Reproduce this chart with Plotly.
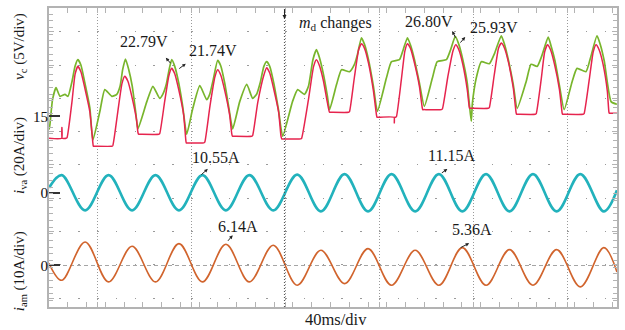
import plotly.graph_objects as go

# ---------------- data (time in ms, 40 ms/div) ----------------
# v_c (green) [V]
vc_t = [0.0, 0.4, 1.5, 3.0, 4.7, 6.8, 8.1, 9.8, 11.1, 12.3, 13.6, 15.3, 17.4, 18.7,
        21.7, 23.8, 26.8, 28.9, 30.3, 31.4, 32.6, 34.0, 35.5, 37.0, 37.9,
        41.7, 44.3, 47.2, 48.5, 50.0, 51.2, 52.3, 53.6, 55.3, 57.0, 58.7,
        61.3, 64.3, 67.2, 68.5, 70.0, 71.9, 73.2, 74.9, 76.8, 78.3,
        81.3, 84.3, 86.8, 88.5, 90.0, 91.6, 92.8, 94.1, 95.8, 97.9, 99.6,
        103.8, 106.0, 108.9, 110.6, 112.5, 114.0, 115.3, 117.0, 118.7, 119.6,
        122.6, 124.7, 128.1, 130.2, 131.5, 133.2, 134.5, 136.2, 138.3, 140.0,
        143.8, 146.0, 149.4, 151.0, 152.8, 154.1, 155.8, 157.9, 160.0,
        163.4, 165.5, 169.4, 171.2, 173.2, 174.7, 176.4, 178.3, 179.2, 180.0, 180.5,
        182.1, 184.3, 187.7, 190.0, 192.8, 194.1, 195.8, 197.9, 199.6,
        203.4, 205.5, 208.1, 210.0, 212.8, 214.0, 215.7, 217.6, 219.6,
        223.0, 225.1, 228.9, 231.0, 233.6, 235.0, 236.7, 239.6, 242.1]
vc_v = [13.0, 13.8, 17.5, 19.3, 18.0, 18.3, 18.0, 20.2, 22.5, 23.5, 22.7, 20.0, 16.3, 11.4,
        15.75, 19.0, 18.0, 18.3, 19.5, 22.0, 23.6, 22.0, 19.5, 15.5, 13.1,
        17.2, 19.5, 17.7, 18.3, 19.8, 22.0, 23.5, 22.5, 20.0, 16.5, 12.3,
        16.2, 19.6, 17.5, 18.3, 20.5, 23.4, 22.6, 20.0, 16.0, 13.1,
        17.2, 19.8, 17.7, 18.3, 20.0, 22.5, 23.2, 22.5, 20.0, 15.8, 12.0,
        17.2, 19.0, 18.3, 19.5, 23.5, 25.0, 23.8, 21.3, 18.0, 16.0,
        19.8, 22.0, 21.7, 22.8, 24.3, 26.8, 25.8, 23.5, 19.5, 15.75,
        20.7, 23.2, 23.5, 25.0, 26.8, 25.7, 23.5, 20.0, 16.5,
        20.7, 23.2, 23.5, 25.0, 27.0, 25.8, 23.5, 20.0, 16.8, 14.25, 17.0,
        20.7, 23.2, 22.9, 24.5, 27.1, 25.9, 23.5, 19.8, 16.2,
        20.2, 22.8, 22.5, 24.0, 26.9, 25.6, 23.3, 19.6, 16.0,
        20.2, 22.2, 21.7, 24.0, 27.1, 25.8, 23.3, 17.2, 16.8]

# red voltage [V]
vr_t = [0.0, 5.4, 5.5, 5.6, 7.3, 7.7, 9.8, 11.1, 12.3, 13.6, 15.3, 17.4, 18.7, 18.9, 19.4, 26.8, 27.2,
        29.3, 31.1, 32.3, 33.6, 35.3, 37.3, 37.9, 38.2, 38.7, 46.8, 47.2,
        49.3, 51.1, 52.3, 53.6, 55.3, 57.4, 58.3, 58.5, 59.0, 66.0, 66.4,
        68.6, 70.7, 71.9, 73.2, 74.9, 77.0, 77.9, 78.2, 78.7, 86.4, 86.8,
        89.0, 91.6, 92.8, 94.1, 95.8, 97.9, 98.9, 99.2, 99.7, 107.3, 107.7,
        110.6, 112.8, 114.0, 115.3, 117.0, 118.7, 119.6, 120.1, 127.7, 128.1,
        130.2, 132.0, 133.2, 134.5, 136.2, 138.3, 139.6, 139.8, 140.3, 147.1, 147.2, 147.3, 147.7, 148.1,
        150.2, 151.7, 152.8, 154.1, 155.8, 157.9, 159.1, 159.3, 159.8, 167.3, 167.7,
        170.0, 172.2, 173.4, 174.7, 176.4, 178.3, 179.1, 179.3, 179.8, 187.3, 187.7,
        189.8, 191.6, 192.8, 194.1, 195.8, 197.9, 199.1, 199.3, 199.8, 207.3, 207.7,
        209.8, 211.3, 212.5, 213.8, 215.5, 217.6, 218.7, 218.9, 219.4, 227.7, 228.1,
        230.3, 232.0, 233.2, 234.5, 236.2, 238.0, 238.7, 238.9, 239.4, 242.1]
vr_v = [11.7, 11.7, 13.3, 11.7, 11.7, 11.8, 17.2, 21.3, 22.5, 21.7, 19.2, 15.7, 11.0, 10.5, 10.5, 10.5, 10.6,
        15.6, 19.9, 21.0, 20.3, 18.0, 14.5, 12.6, 12.3, 12.3, 12.3, 12.4,
        17.2, 21.1, 22.2, 21.4, 19.0, 15.2, 11.5, 11.0, 11.0, 11.0, 11.1,
        16.5, 20.9, 22.0, 21.2, 18.9, 15.2, 12.4, 12.0, 12.0, 12.0, 12.1,
        17.1, 21.2, 22.3, 21.5, 19.1, 15.6, 12.0, 11.6, 11.6, 11.6, 11.7,
        17.5, 22.5, 23.5, 22.6, 20.3, 17.0, 15.6, 15.6, 15.6, 15.7,
        20.9, 25.0, 25.9, 25.2, 23.0, 18.8, 15.2, 14.85, 14.85, 14.85, 14.0, 14.85, 14.85, 14.95,
        20.5, 24.8, 25.9, 25.2, 23.0, 19.5, 16.3, 16.0, 16.0, 16.0, 16.1,
        20.9, 24.8, 25.75, 25.0, 22.8, 19.0, 16.5, 16.2, 16.2, 16.2, 16.3,
        21.2, 25.2, 26.0, 25.3, 23.2, 19.3, 15.6, 15.3, 15.3, 15.3, 15.4,
        20.5, 24.7, 25.75, 25.0, 22.8, 19.0, 15.6, 15.3, 15.3, 15.3, 15.4,
        20.5, 24.7, 25.75, 25.0, 22.8, 18.8, 15.6, 15.45, 15.45, 15.45]

# i_va (cyan) [A]  -- peaks / troughs
iva_t = [0.0, 5.4, 15.4, 25.4, 35.4, 45.4, 55.4, 65.4, 75.4, 85.4, 95.6, 105.8, 115.9, 126.0,
         136.0, 146.0, 156.1, 166.2, 176.2, 186.3, 196.3, 206.3, 216.4, 226.5, 236.5, 242.1]
iva_v = [3.0, 10.6, -10.6, 10.6, -10.6, 10.6, -10.6, 10.6, -10.6, 10.6, -10.6, 10.9, -11.2, 11.2,
         -11.2, 11.2, -11.2, 11.2, -11.2, 11.2, -11.2, 11.2, -11.2, 11.2, -11.2, 1.5]

# i_am (orange) [A]
iam_t = [0.0, 5.4, 15.4, 25.4, 35.4, 45.4, 55.4, 65.4, 75.4, 85.4, 95.6, 105.8, 115.9, 126.0,
         136.0, 146.0, 156.1, 166.2, 176.2, 186.3, 196.3, 206.3, 216.4, 226.5, 236.5, 242.1]
iam_v = [0.6, -4.5, 7.0, -5.0, 5.7, -5.0, 6.5, -5.0, 6.3, -5.0, 6.0, -6.0, 4.5, -5.5,
         5.0, -6.0, 4.5, -6.0, 5.3, -6.0, 4.7, -6.0, 4.7, -6.5, 5.3, -2.0]

# ---------------- layout geometry ----------------
W, H = 625, 330
ML, MR, MT, MB = 49, 7, 6, 23
X_RANGE = [0, 242.13]          # ms
DIVS_H = 301 / 33.5            # vertical divisions visible


def yrange(ref_val, divs_from_top, per_div):
    top = ref_val + divs_from_top * per_div
    return [top - DIVS_H * per_div, top]


SERIF = "Liberation Serif"
GREY = "#b3b3b3"
DOT = "#9a9a9a"

fig = go.Figure()
fig.add_trace(go.Scatter(x=vc_t, y=vc_v, mode="lines", yaxis="y",
                         line=dict(color="#78b52c", width=1.7, shape="spline", smoothing=0.5)))
fig.add_trace(go.Scatter(x=vr_t, y=vr_v, mode="lines", yaxis="y",
                         line=dict(color="#e6244e", width=1.5, shape="spline", smoothing=0.5)))
fig.add_trace(go.Scatter(x=iva_t, y=iva_v, mode="lines", yaxis="y2",
                         line=dict(color="#22b2bc", width=2.6, shape="spline", smoothing=1.0)))
fig.add_trace(go.Scatter(x=iam_t, y=iam_v, mode="lines", yaxis="y3",
                         line=dict(color="#d1642d", width=1.6, shape="spline", smoothing=1.0)))

tick_common = dict(ticks="inside", ticklen=11, tickwidth=1.5, tickcolor="#333",
                   showgrid=False, zeroline=False, showline=False,
                   tickfont=dict(family=SERIF, size=15, color="#111"))

fig.update_layout(
    width=W, height=H, autosize=False,
    margin=dict(l=ML, r=MR, t=MT, b=MB, pad=0),
    paper_bgcolor="white", plot_bgcolor="white", showlegend=False,
    xaxis=dict(range=X_RANGE, showticklabels=False,
               tick0=20.85, dtick=40, ticks="inside", ticklen=5, tickcolor=GREY,
               minor=dict(dtick=8, ticks="inside", ticklen=5, tickcolor=GREY, showgrid=False),
               showgrid=True, gridcolor=DOT, gridwidth=1, griddash="1px,2px",
               zeroline=False, showline=True, linecolor=GREY, linewidth=2, mirror="allticks"),
    yaxis=dict(range=yrange(15, 109 / 33.5, 5), tickvals=[15], ticktext=["15"], **tick_common),
    yaxis2=dict(range=yrange(0, 186 / 33.5, 20), tickvals=[0], ticktext=["0"],
                overlaying="y", **tick_common),
    yaxis3=dict(range=yrange(0, 259 / 33.5, 10), tickvals=[0], ticktext=["0"],
                overlaying="y", **{**tick_common, "showgrid": True},
                gridcolor="#a5a5a5", gridwidth=1.2, griddash="4px,3px"),
    yaxis4=dict(range=[0, DIVS_H], overlaying="y", showticklabels=False,
                tick0=(307 - 30) / 33.5 - 8, dtick=1, ticks="inside", ticklen=5, tickcolor=GREY,
                minor=dict(dtick=0.2, ticks="inside", ticklen=4, tickcolor=GREY, showgrid=False),
                showgrid=True, gridcolor=DOT, gridwidth=1, griddash="0px,10.4px,1.5px,6.9px",
                zeroline=False, showline=True, linecolor=GREY, linewidth=2, mirror="allticks"),
)

# dummy trace so yaxis4 is drawn
fig.add_trace(go.Scatter(x=[None], y=[None], yaxis="y4", hoverinfo="skip"))

# m_d change marker
MD_T = 100.4
fig.add_shape(type="line", xref="x", yref="paper", x0=MD_T, x1=MD_T, y0=0, y1=1,
              line=dict(color="#555", width=1.2, dash="1px,2px"))

ann_font = dict(family=SERIF, size=16, color="#1a1a1a")
ann = []
ann.append(dict(x=MD_T, y=1 - 11 / 301, xref="x", yref="paper", ax=0, ay=-11,
                showarrow=True, arrowhead=2, arrowsize=0.8, arrowwidth=1, arrowcolor="#222", text=""))
ann.append(dict(x=122.1, y=28.9, xref="x", yref="y", showarrow=False,
                text="<i>m</i><sub>d</sub> changes", font=ann_font))

# value labels (text)
labels = [
    ("22.79V", 40.4, 26.2, "y"), ("21.74V", 69.8, 24.85, "y"),
    ("26.80V", 162.1, 29.2, "y"), ("25.93V", 189.8, 28.3, "y"),
    ("10.55A", 71.1, 20.9, "y2"), ("11.15A", 171.5, 22.1, "y2"),
    ("6.14A", 80.4, 11.6, "y3"), ("5.36A", 180.4, 10.7, "y3"),
]
for txt, x, y, yr in labels:
    ann.append(dict(x=x, y=y, xref="x", yref=yr, text=txt, showarrow=False, font=ann_font))

# small arrows pointing from the waveform toward labels (head, tail offset px)
arrows = [
    (49.8, 23.8, "y", 6, 7), (58.3, 22.9, "y", -8, 6),
    (171.9, 27.8, "y", 4, 8), (177.4, 26.9, "y", -6, 7),
    (67.7, 14.3, "y2", -8, 7), (169.8, 14.3, "y2", -7, 5),
    (78.3, 9.0, "y3", -6, 7), (179.1, 6.6, "y3", -10, 5),
]
for x, y, yr, ax, ay in arrows:
    ann.append(dict(x=x, y=y, xref="x", yref=yr, ax=ax, ay=ay, text="", showarrow=True,
                    arrowhead=2, arrowsize=0.7, arrowwidth=1, arrowcolor="#222"))

# axis titles
title_font = dict(family=SERIF, size=15, color="#1a1a1a")
ann.append(dict(x=-0.051, y=0.87, xref="paper", yref="paper", textangle=-90, showarrow=False,
                text="<i>v</i><sub>c</sub> (5V/div)", font=title_font, xanchor="center", yanchor="middle"))
ann.append(dict(x=-0.051, y=0.505, xref="paper", yref="paper", textangle=-90, showarrow=False,
                text="<i>i</i><sub>va</sub> (20A/div)", font=title_font, xanchor="center", yanchor="middle"))
ann.append(dict(x=-0.051, y=0.12, xref="paper", yref="paper", textangle=-90, showarrow=False,
                text="<i>i</i><sub>am</sub> (10A/div)", font=title_font, xanchor="center", yanchor="middle"))
ann.append(dict(x=0.505, y=-0.043, xref="paper", yref="paper", showarrow=False,
                text="40ms/div", font=dict(family=SERIF, size=16.5, color="#1a1a1a"),
                xanchor="center", yanchor="middle"))

fig.update_layout(annotations=ann)
fig.write_html("out.html")
